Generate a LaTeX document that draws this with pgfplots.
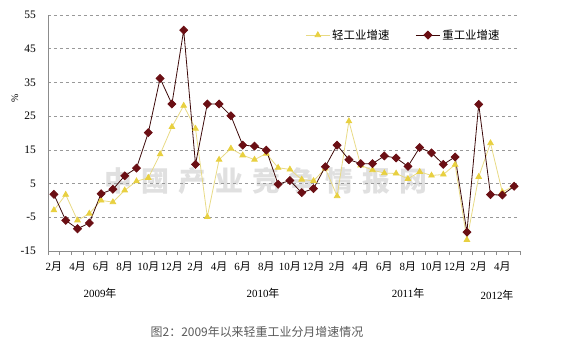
\documentclass[border=0pt]{standalone}
\usepackage{fontspec}
\setmainfont{Liberation Serif}
\newfontfamily\cjk{Noto Sans CJK SC}
\usepackage{pgfplots}
\pgfplotsset{compat=1.18}
\definecolor{heavy}{HTML}{6B0F14}
\definecolor{heavyline}{HTML}{3C0808}
\definecolor{lightm}{HTML}{E8D040}
\definecolor{lightline}{HTML}{E8DA84}
\definecolor{axgray}{HTML}{8C8C8C}
\begin{document}
\begin{tikzpicture}[x=1bp,y=1bp]
\useasboundingbox (0,0) rectangle (576,361);
% watermark
\node[text=gray!45,opacity=0.55,font=\cjk\bfseries\fontsize{28}{28}\selectfont] at (266,180)
 {中\hspace{9bp}國\hspace{9bp}产\hspace{9bp}业\hspace{9bp}竞\hspace{9bp}争\hspace{9bp}情\hspace{9bp}报\hspace{9bp}网};
\begin{axis}[
  at={(48bp,110bp)}, anchor=south west,
  scale only axis, width=472bp, height=236bp,
  xmin=-0.5, xmax=39.5, ymin=-15, ymax=55,
  axis x line=bottom, axis y line=left,
  axis line style={draw=axgray, line width=0.8pt, -},
  ytick={-15,-5,5,15,25,35,45,55},
  ymajorgrids, grid style={dashed, draw=gray!80, line width=0.7pt},
  xtick={0,2,...,38},
  xticklabels={2{\cjk 月},4{\cjk 月},6{\cjk 月},8{\cjk 月},10{\cjk 月},12{\cjk 月},2{\cjk 月},4{\cjk 月},6{\cjk 月},8{\cjk 月},10{\cjk 月},12{\cjk 月},2{\cjk 月},4{\cjk 月},6{\cjk 月},8{\cjk 月},10{\cjk 月},12{\cjk 月},2{\cjk 月},4{\cjk 月}},
  minor xtick={-0.5,0.5,...,39.5},
  major tick length=0pt, minor tick length=4bp, tick align=outside,
  minor tick style={draw=axgray, line width=0.7pt},
  /pgf/number format/assume math mode=true,
  xticklabel style={font=\fontsize{11}{11}\selectfont, inner sep=0pt, anchor=north, yshift=-11bp},
  yticklabel style={font=\fontsize{11.5}{11.5}\selectfont, inner sep=0pt, anchor=east, xshift=-12bp},
  clip=false,
  legend columns=2,
  legend style={at={(0.545,0.915)}, anchor=west, draw=none, fill=none,
    font=\cjk\fontsize{11.5}{12}\selectfont,
    /tikz/every even column/.append style={column sep=24bp},
    inner sep=0pt},
  legend image code/.code={\draw[mark repeat=2,mark phase=2] plot coordinates {(0bp,0bp) (12bp,0bp) (24bp,0bp)};},
]
\addplot[color=lightline, line width=0.8pt, mark=triangle*, mark size=3.2bp,
  mark options={draw=lightm, fill=lightm}] table[x=i,y=v] {
i v
0 -2.9
1 1.7
2 -5.9
3 -3.9
4 0.0
5 -0.5
6 3.0
7 5.7
8 6.7
9 13.7
10 21.8
11 28.1
12 21.3
13 -4.9
14 12.1
15 15.4
16 13.4
17 12.1
18 13.9
19 9.7
20 9.2
21 6.2
22 5.8
23 9.5
24 1.3
25 23.5
26 10.4
27 9.0
28 8.1
29 8.0
30 6.4
31 8.5
32 7.4
33 7.7
34 10.6
35 -11.7
36 7.0
37 17.0
38 2.5
39 4.3
};
\addlegendentry{轻工业增速}
\addplot[color=heavyline, line width=0.8pt, mark=square*, mark size=2.8bp,
  mark options={draw=heavy, fill=heavy, rotate=45}] table[x=i,y=v] {
i v
0 1.8
1 -5.9
2 -8.4
3 -6.7
4 2.0
5 3.3
6 7.3
7 9.6
8 20.1
9 36.2
10 28.6
11 50.5
12 10.7
13 28.6
14 28.6
15 25.1
16 16.4
17 16.1
18 14.9
19 4.8
20 5.9
21 2.3
22 3.5
23 10.0
24 16.4
25 12.1
26 10.9
27 10.9
28 13.2
29 12.6
30 10.1
31 15.7
32 14.1
33 10.7
34 12.9
35 -9.4
36 28.5
37 1.7
38 1.6
39 4.2
};
\addlegendentry{重工业增速}
\end{axis}
% axis label and group labels
\node[rotate=90, font=\fontsize{10}{10}\selectfont] at (15,263) {\%};
\node[font=\fontsize{11}{11}\selectfont] at (100,68) {2009{\cjk 年}};
\node[font=\fontsize{11}{11}\selectfont] at (263,68) {2010{\cjk 年}};
\node[font=\fontsize{11}{11}\selectfont] at (408,68) {2011{\cjk 年}};
\node[font=\fontsize{11}{11}\selectfont] at (497,66) {2012{\cjk 年}};
% caption
\node[text=black!65, font=\cjk\fontsize{12}{12}\selectfont] at (257,29) {图2：2009年以来轻重工业分月增速情况};
\end{tikzpicture}
\end{document}
